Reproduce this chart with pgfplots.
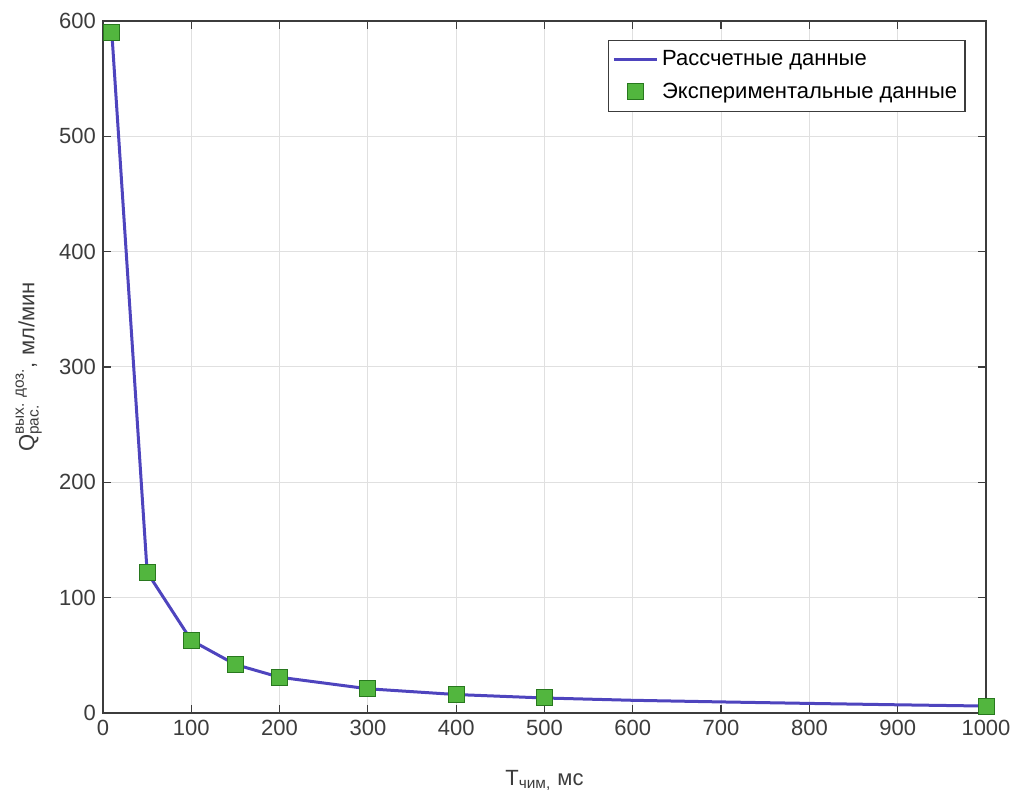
\documentclass[border=0pt]{standalone}
\usepackage{amsmath}
\usepackage{fontspec}
\setmainfont{Liberation Sans}
\usepackage{pgfplots}
\pgfplotsset{compat=1.18}
\definecolor{lineblue}{RGB}{78,68,190}
\definecolor{mkgreen}{RGB}{82,182,62}
\definecolor{mkedge}{RGB}{40,120,30}
\definecolor{axgray}{RGB}{60,60,60}
\pgfplotsset{
  longline/.style={legend image code/.code={\draw[##1] (0cm,0cm) -- (0.75cm,0cm);}},
  midmark/.style={legend image code/.code={\draw[mark repeat=2,mark phase=2,##1] plot coordinates {(0cm,0cm) (0.375cm,0cm) (0.75cm,0cm)};}},
}
\begin{document}
\begin{tikzpicture}
\begin{axis}[
  scale only axis,
  width=441.5pt, height=346pt,
  xmin=0, xmax=1000, ymin=0, ymax=600,
  xtick={0,100,...,1000}, ytick={0,100,...,600},
  grid=major,
  major grid style={draw=black!12, line width=0.5pt},
  axis line style={draw=axgray, line width=0.7pt},
  tick style={draw=axgray, line width=0.6pt},
  tick align=inside,
  major tick length=4pt,
  ticklabel style={font=\fontsize{11}{13}\selectfont, text=axgray},
  /pgf/number format/assume math mode=true,
  /pgf/number format/1000 sep={},
  scaled ticks=false,
  xlabel={T\textsubscript{чим,} мс},
  ylabel={Q$^{\text{вых. доз.}}_{\text{рас.}}$, мл/мин},
  label style={font=\fontsize{11}{13}\selectfont, text=axgray},
  xlabel style={at={(axis description cs:0.5,0)}, anchor=north, yshift=-25pt},
  ylabel style={at={(axis description cs:0,0.5)}, anchor=south, yshift=27pt},
  legend style={at={(rel axis cs:0.977,0.9725)}, anchor=north east,
    draw=axgray, line width=0.6pt, font=\fontsize{11}{13}\selectfont,
    inner xsep=2pt, inner ysep=3pt, row sep=3pt, cells={anchor=west}},
  legend cell align=left,
]
\addplot[lineblue, line width=1.5pt, longline] coordinates {
 (10,590) (50,122) (100,63) (150,42) (200,31) (300,21) (400,16) (500,13)
 (600,11) (700,9.6) (800,8.3) (900,7.1) (1000,6)
};
\addlegendentry{Рассчетные данные}
\addplot[only marks, mark=square*, mark size=4pt,
  mark options={fill=mkgreen, draw=mkedge, line width=0.5pt}, midmark] coordinates {
 (10,590) (50,122) (100,63) (150,42) (200,31) (300,21) (400,16) (500,13) (1000,6)
};
\addlegendentry{Экспериментальные данные}
\end{axis}
\pgfresetboundingbox
\path[use as bounding box] (-51.5pt,-41.5pt) rectangle (455.5pt,356.5pt);
\end{tikzpicture}
\end{document}
